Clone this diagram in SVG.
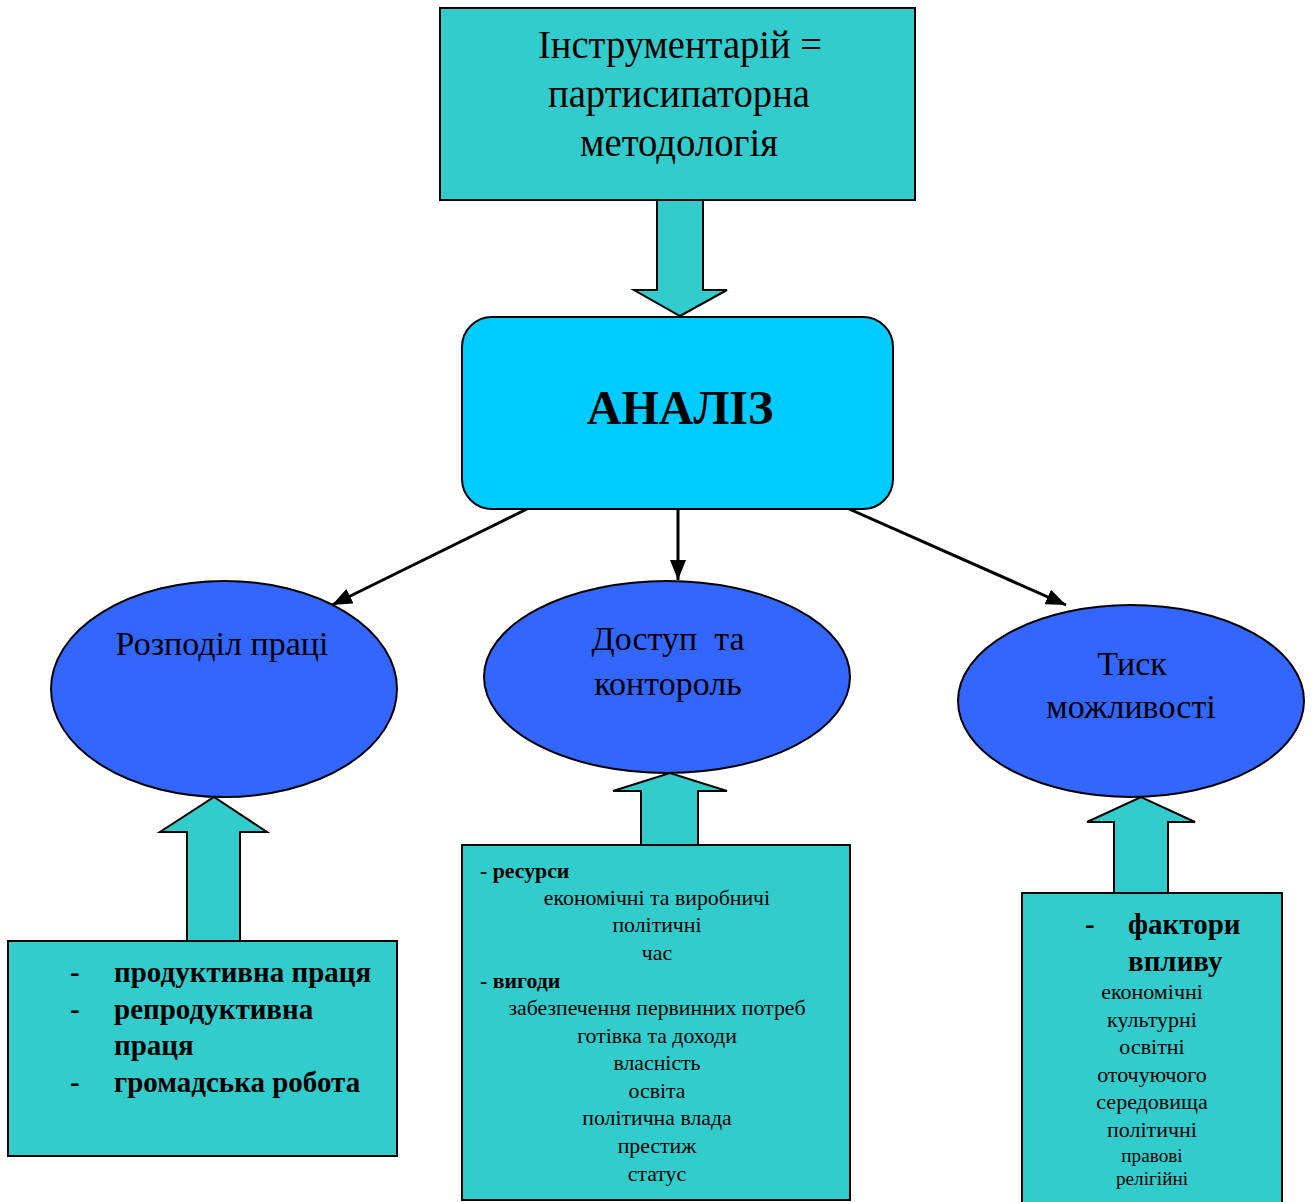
<svg xmlns="http://www.w3.org/2000/svg" width="1313" height="1202" viewBox="0 0 1313 1202">
<defs>
<style>
.box{fill:#33CCCC;stroke:#000;stroke-width:2}
.ell{fill:#3366FF;stroke:#000;stroke-width:2}
.big{fill:#33CCCC;stroke:#000;stroke-width:2}
.t{font-family:"Liberation Serif","Times New Roman",serif;fill:#000}
.c{text-anchor:middle}
.b{font-weight:bold}
.line{stroke:#000;stroke-width:3;fill:none}
</style>
<marker id="ah2" viewBox="0 0 20 16" refX="20" refY="8" markerWidth="20" markerHeight="16" markerUnits="userSpaceOnUse" orient="auto">
<path d="M0,0 L20,8 L0,16 z" fill="#000"/>
</marker>
</defs>
<rect width="1313" height="1202" fill="#fff"/>

<g id="connectors">
<path class="big" d="M657,200 L703,200 L703,290 L727,290 L680,316 L634,290 L657,290 Z"/>
<line class="line" x1="527" y1="509" x2="332" y2="605" marker-end="url(#ah2)"/>
<line class="line" x1="678" y1="509" x2="678" y2="580" marker-end="url(#ah2)"/>
<line class="line" x1="849" y1="509" x2="1066" y2="605" marker-end="url(#ah2)"/>
<path class="big" d="M187,941 L187,832 L160,832 L214,797 L267,832 L240,832 L240,941 Z"/>
<path class="big" d="M641,845 L641,791 L613,791 L670,773 L727,791 L698,791 L698,845 Z"/>
<path class="big" d="M1114,893 L1114,822 L1087,822 L1141,797 L1195,822 L1168,822 L1168,893 Z"/>
</g>

<g id="tools">
<rect class="box" x="440" y="8" width="475" height="192"/>
<text class="t c" x="680" y="58" font-size="40" textLength="284" lengthAdjust="spacingAndGlyphs">Інструментарій =</text>
<text class="t c" x="679" y="107" font-size="40" textLength="262" lengthAdjust="spacingAndGlyphs">партисипаторна</text>
<text class="t c" x="679" y="156" font-size="40" textLength="198" lengthAdjust="spacingAndGlyphs">методологія</text>
</g>

<g id="analysis">
<rect x="462" y="317" width="431" height="192" rx="30" ry="30" fill="#00CCFF" stroke="#000" stroke-width="2"/>
<text class="t c b" x="680" y="424" font-size="48">АНАЛІЗ</text>
</g>

<g id="division">
<ellipse class="ell" cx="224" cy="689" rx="173" ry="108"/>
<text class="t c" x="222" y="655" font-size="34">Розподіл праці</text>
</g>

<g id="access">
<ellipse class="ell" cx="667" cy="677" rx="183" ry="96"/>
<text class="t c" x="668" y="650" font-size="34" xml:space="preserve">Доступ  та</text>
<text class="t c" x="668" y="695" font-size="34">контороль</text>
</g>

<g id="pressure">
<ellipse class="ell" cx="1131" cy="701" rx="173" ry="96"/>
<text class="t c" x="1132" y="675" font-size="34">Тиск</text>
<text class="t c" x="1131" y="718" font-size="34">можливості</text>
</g>

<g id="labour">
<rect class="box" x="8" y="941" width="389" height="215"/>
<g class="t b" font-size="29">
<text x="70" y="982">-</text><text x="114" y="982">продуктивна праця</text>
<text x="70" y="1019">-</text><text x="114" y="1019">репродуктивна</text>
<text x="114" y="1055">праця</text>
<text x="70" y="1092">-</text><text x="114" y="1092">громадська робота</text>
</g>
</g>

<g id="resources">
<rect class="box" x="462" y="845" width="388" height="355"/>
<g class="t" font-size="21.8">
<text class="b" x="480" y="878">- ресурси</text>
<text class="c" x="657" y="905">економічні та виробничі</text>
<text class="c" x="657" y="932">політичні</text>
<text class="c" x="657" y="960">час</text>
<text class="b" x="480" y="988">- вигоди</text>
<text class="c" x="657" y="1015">забезпечення первинних потреб</text>
<text class="c" x="657" y="1043">готівка та доходи</text>
<text class="c" x="657" y="1070">власність</text>
<text class="c" x="657" y="1098">освіта</text>
<text class="c" x="657" y="1125">політична влада</text>
<text class="c" x="657" y="1153">престиж</text>
<text class="c" x="657" y="1181">статус</text>
</g>
</g>

<g id="factors">
<rect class="box" x="1022" y="893" width="260" height="320"/>
<g class="t">
<text x="1085" y="934" font-size="29" class="b">-</text>
<text x="1128" y="934" font-size="29" class="b">фактори</text>
<text x="1128" y="971" font-size="29" class="b">впливу</text>
<text class="c" x="1152" y="999" font-size="22">економічні</text>
<text class="c" x="1152" y="1027" font-size="22">культурні</text>
<text class="c" x="1152" y="1054" font-size="22">освітні</text>
<text class="c" x="1152" y="1082" font-size="22">оточуючого</text>
<text class="c" x="1152" y="1109" font-size="22">середовища</text>
<text class="c" x="1152" y="1137" font-size="22">політичні</text>
<text class="c" x="1152" y="1162" font-size="19.2">правові</text>
<text class="c" x="1152" y="1185" font-size="19.2">релігійні</text>
</g>
</g>
</svg>
